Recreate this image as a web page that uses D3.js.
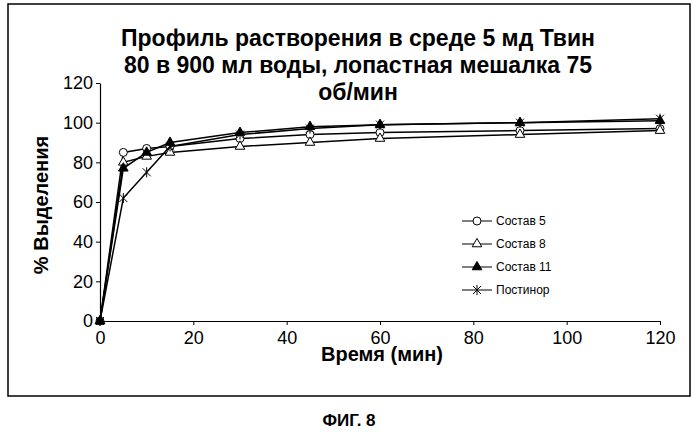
<!DOCTYPE html>
<html><head><meta charset="utf-8">
<script src="https://d3js.org/d3.v7.min.js"></script>
<style>body{margin:0;background:#fff}text{font-family:"Liberation Sans",Arial,sans-serif}</style>
</head><body>
<script>
const times = [0, 5, 10, 15, 30, 45, 60, 90, 120];
const sostav5 = [0, 85, 87, 88, 92, 94, 95, 96, 97];
const sostav8 = [0, 80, 83, 85, 88, 90, 92, 94, 96];
const sostav11 = [0, 77, 85, 90, 95, 98, 99, 100, 101];
const postinor = [0, 62, 75, 88, 94, 97, 99, 100, 102];
const seriesNames = ["Состав 5", "Состав 8", "Состав 11", "Постинор"];
const seriesVals = [sostav5, sostav8, sostav11, postinor];
const xTicks = [0, 20, 40, 60, 80, 100, 120];
const yTicks = [0, 20, 40, 60, 80, 100, 120];

const svg = d3.select("body").append("svg").attr("width", 699).attr("height", 436);
svg.append("rect").attr("x", 8).attr("y", 4).attr("width", 682).attr("height", 392)
  .attr("fill", "none").attr("stroke", "#000").attr("stroke-width", 1.5);

const x = d3.scaleLinear().domain([0, 120]).range([100, 660]);
const y = d3.scaleLinear().domain([0, 120]).range([321, 83]);

svg.append("g").attr("transform", "translate(0,321)")
  .call(d3.axisBottom(x).tickValues(xTicks).tickSize(4).tickSizeOuter(0))
  .call(g => g.selectAll("text").attr("font-size", 18).attr("dy", "0.9em"));
svg.append("g").attr("transform", "translate(100,0)")
  .call(d3.axisLeft(y).tickValues(yTicks).tickSize(4).tickSizeOuter(0))
  .call(g => g.selectAll("text").attr("font-size", 18));
svg.selectAll(".domain").attr("stroke-width", 1.2);

const line = d3.line().x((d, i) => x(times[i])).y(d => y(d));
const markers = ["circle", "triangle", "triangleFill", "star"];
function marker(g, type, cx, cy) {
  if (type === "circle") g.append("circle").attr("cx", cx).attr("cy", cy).attr("r", 4).attr("fill", "#fff").attr("stroke", "#000");
  else if (type === "triangle" || type === "triangleFill")
    g.append("path").attr("d", d3.symbol(d3.symbolTriangle, 40)()).attr("transform", `translate(${cx},${cy})`)
      .attr("fill", type === "triangle" ? "#fff" : "#000").attr("stroke", "#000");
  else g.append("path").attr("d", `M${cx-4},${cy-4}L${cx+4},${cy+4}M${cx-4},${cy+4}L${cx+4},${cy-4}M${cx},${cy-5}L${cx},${cy+5}`).attr("stroke", "#000");
}
seriesVals.forEach((vals, k) => {
  const g = svg.append("g");
  g.append("path").attr("d", line(vals)).attr("fill", "none").attr("stroke", "#000").attr("stroke-width", 1.5);
  vals.forEach((v, i) => marker(g, markers[k], x(times[i]), y(v)));
  const ly = 221 + k * 23;
  g.append("line").attr("x1", 462).attr("x2", 492).attr("y1", ly).attr("y2", ly).attr("stroke", "#000");
  marker(g, markers[k], 477, ly);
  g.append("text").attr("x", 496).attr("y", ly + 4).attr("font-size", 12).text(seriesNames[k]);
});

const title = ["Профиль растворения в среде 5 мд Твин", "80 в 900 мл воды, лопастная мешалка 75", "об/мин"];
svg.append("g").selectAll("text").data(title).join("text")
  .attr("x", 358).attr("y", (d, i) => 46 + i * 27).attr("text-anchor", "middle")
  .attr("font-size", 23).attr("font-weight", "bold").text(d => d);

svg.append("text").attr("x", 382).attr("y", 361).attr("text-anchor", "middle")
  .attr("font-size", 20).attr("font-weight", "bold").text("Время (мин)");
svg.append("text").attr("transform", "translate(48,205) rotate(-90)").attr("text-anchor", "middle")
  .attr("font-size", 20).attr("font-weight", "bold").text("% Выделения");
svg.append("text").attr("x", 349).attr("y", 426).attr("text-anchor", "middle")
  .attr("font-size", 17).attr("font-weight", "bold").text("ФИГ. 8");
</script>
</body></html>
